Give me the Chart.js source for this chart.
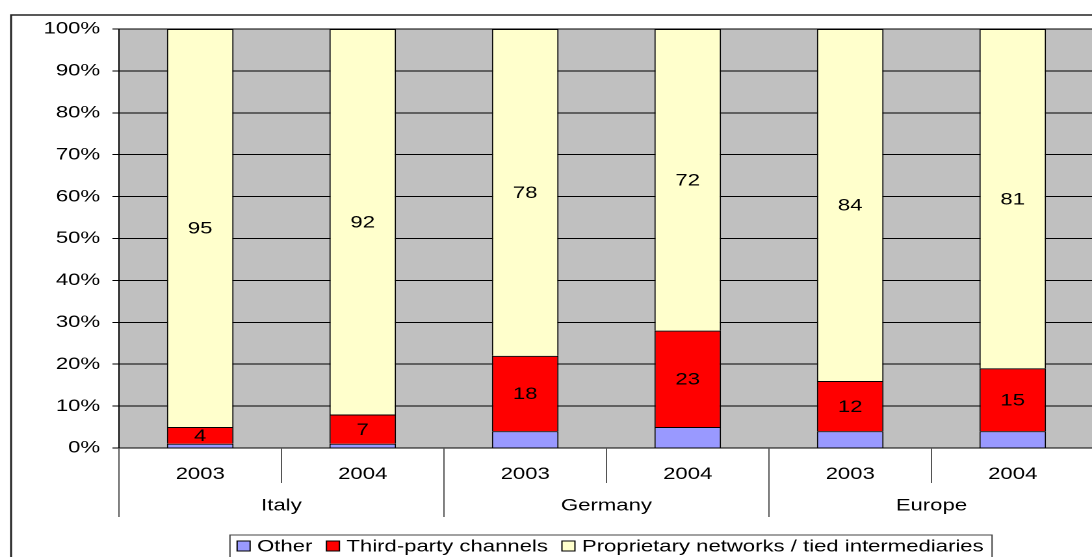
<!DOCTYPE html>
<html>
<head>
<meta charset="utf-8">
<script src="https://cdn.jsdelivr.net/npm/chart.js@4"></script>
<style>
  body { margin: 0; overflow: hidden; background: #fff; }
  /* the original picture is stretched sideways, so the chart is too */
  #wrap { width: 844px; height: 575px; transform: scaleX(1.3); transform-origin: 0 0; }
</style>
</head>
<body>
<div id="wrap"><canvas id="myChart" width="844" height="575"></canvas></div>
<script>
let years = ['2003', '2004', '2003', '2004', '2003', '2004'];
let countries = ['Italy', 'Germany', 'Europe'];
let other = [1, 1, 4, 5, 4, 4];
let thirdParty = [4, 7, 18, 23, 12, 15];
let proprietary = [95, 92, 78, 72, 84, 81];
let seriesNames = ['Other', 'Third-party channels', 'Proprietary networks / tied intermediaries'];
let seriesColors = ['#9999ff', '#ff0000', '#ffffcc'];
let yMax = 100;
let yStep = 10;

let fontName = '"Liberation Sans", Arial, sans-serif';

let backgroundPlugin = {
  id: 'background',
  beforeDraw(chart) {
    let ctx = chart.ctx;
    let area = chart.chartArea;
    ctx.save();
    ctx.fillStyle = '#fff';
    ctx.fillRect(0, 0, chart.width, chart.height);
    ctx.strokeStyle = '#222';
    ctx.lineWidth = 1.5;
    ctx.strokeRect(8.5, 15, chart.width + 20, chart.height + 20);
    ctx.fillStyle = '#c0c0c0';
    ctx.fillRect(area.left, area.top, area.right - area.left, area.bottom - area.top);
    ctx.restore();
  }
};

let valueLabelPlugin = {
  id: 'valueLabels',
  afterDatasetsDraw(chart) {
    let ctx = chart.ctx;
    ctx.save();
    ctx.font = '17px ' + fontName;
    ctx.fillStyle = '#000';
    ctx.textAlign = 'center';
    ctx.textBaseline = 'middle';
    // the "Other" series has no labels
    for (let d = 1; d < chart.data.datasets.length; d++) {
      let meta = chart.getDatasetMeta(d);
      meta.data.forEach((bar, i) => {
        ctx.fillText(chart.data.datasets[d].data[i], bar.x, (bar.y + bar.base) / 2 + 1);
      });
    }
    ctx.restore();
  }
};

let groupAxisPlugin = {
  id: 'groupAxis',
  afterDraw(chart) {
    let ctx = chart.ctx;
    let xScale = chart.scales.x;
    let top = chart.chartArea.bottom;
    let edges = [xScale.left];
    for (let i = 0; i < years.length - 1; i++) {
      edges.push((xScale.getPixelForTick(i) + xScale.getPixelForTick(i + 1)) / 2);
    }
    edges.push(xScale.right);
    ctx.save();
    ctx.strokeStyle = '#555';
    ctx.lineWidth = 1;
    edges.forEach((x, i) => {
      let len = i % 2 == 0 ? 69 : 35;
      ctx.beginPath();
      ctx.moveTo(x, top);
      ctx.lineTo(x, top + len);
      ctx.stroke();
    });
    ctx.font = '17px ' + fontName;
    ctx.fillStyle = '#000';
    ctx.textAlign = 'center';
    ctx.textBaseline = 'middle';
    for (let i = 0; i < countries.length; i++) {
      let x = (xScale.getPixelForTick(2 * i) + xScale.getPixelForTick(2 * i + 1)) / 2;
      ctx.fillText(countries[i], x, top + 58);
    }
    ctx.restore();
  }
};

let legendPlugin = {
  id: 'boxLegend',
  afterDraw(chart) {
    let ctx = chart.ctx;
    let datasets = chart.data.datasets;
    let box = 10;
    let gap = 5.4;
    let spacing = 10.8;
    let cy = 546;
    ctx.save();
    ctx.font = '17px ' + fontName;
    let total = 0;
    datasets.forEach((ds, i) => {
      total += box + gap + ctx.measureText(ds.label).width;
      if (i > 0) total += spacing;
    });
    let area = chart.chartArea;
    let x = (area.left + area.right) / 2 - total / 2 + 3;
    ctx.strokeStyle = '#444';
    ctx.lineWidth = 1;
    ctx.strokeRect(x - 5.5, cy - 11, total + 12, 40);
    ctx.textBaseline = 'middle';
    ctx.textAlign = 'left';
    datasets.forEach((ds) => {
      ctx.fillStyle = ds.backgroundColor;
      ctx.fillRect(x, cy - box / 2, box, box);
      ctx.strokeStyle = '#000';
      ctx.strokeRect(x, cy - box / 2, box, box);
      x += box + gap;
      ctx.fillStyle = '#000';
      ctx.fillText(ds.label, x, cy + 1);
      x += ctx.measureText(ds.label).width + spacing;
    });
    ctx.restore();
  }
};

function makeDataset(i, values) {
  return {
    label: seriesNames[i],
    data: values,
    backgroundColor: seriesColors[i],
    borderColor: '#000',
    borderWidth: 1,
    categoryPercentage: 1,
    barPercentage: 0.41
  };
}

function renderChart() {
  const ctx = document.getElementById('myChart');

  new Chart(ctx, {
    type: 'bar',
    data: {
      labels: years,
      datasets: [
        makeDataset(0, other),
        makeDataset(1, thirdParty),
        makeDataset(2, proprietary)
      ]
    },
    options: {
      responsive: false,
      devicePixelRatio: 2,
      animation: false,
      layout: { padding: { top: 29, bottom: 57, left: 0, right: 2.5 } },
      plugins: {
        legend: { display: false },
        tooltip: { enabled: false }
      },
      scales: {
        x: {
          stacked: true,
          grid: { display: false },
          border: { display: false },
          ticks: { color: '#000', font: { family: fontName, size: 17 }, padding: 8, maxRotation: 0 },
          afterFit(scale) { scale.height = 70; }
        },
        y: {
          stacked: true,
          min: 0,
          max: yMax,
          grid: { color: '#000', lineWidth: 1, tickLength: 5 },
          border: { display: true, color: '#000', width: 1 },
          ticks: {
            stepSize: yStep,
            color: '#000',
            font: { family: fontName, size: 17 },
            padding: 9.5,
            callback: (v) => v + '%'
          },
          afterFit(scale) { scale.width = 91.5; }
        }
      }
    },
    plugins: [backgroundPlugin, valueLabelPlugin, groupAxisPlugin, legendPlugin]
  });
}

renderChart();
</script>
</body>
</html>
